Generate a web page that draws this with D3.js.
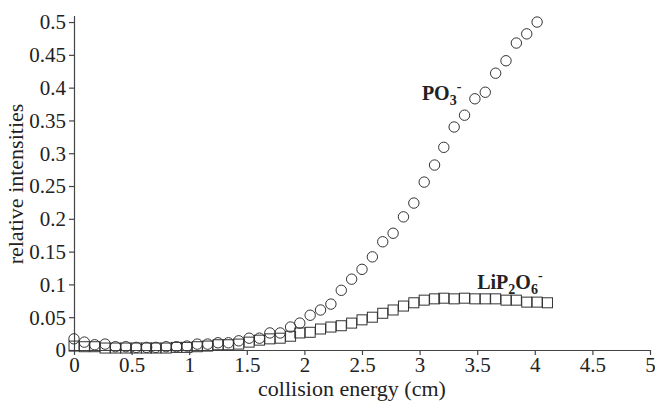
<!DOCTYPE html>
<html>
<head>
<meta charset="utf-8">
<script src="https://cdn.jsdelivr.net/npm/d3@7/dist/d3.min.js"></script>
<style>
  body { margin: 0; background: #fff; }
  svg text { font-family: "Liberation Serif", "Times New Roman", serif; fill: #222; }
  .axis path, .axis line { stroke: #444; stroke-width: 1.2; }
  .axis text { font-size: 21px; }
  .lbl { font-weight: bold; font-size: 20px; }
</style>
</head>
<body>
<svg id="chart"></svg>
<script>
// collision energy (cm) for each measurement
var energyPO3 = [0, 0.09, 0.18, 0.27, 0.36, 0.45, 0.54, 0.63, 0.71, 0.8, 0.89, 0.98, 1.07, 1.16, 1.25, 1.34,
    1.43, 1.52, 1.61, 1.7, 1.79, 1.88, 1.96, 2.05, 2.14, 2.23, 2.32, 2.41, 2.5, 2.59, 2.68, 2.77, 2.86, 2.95,
    3.04, 3.13, 3.21, 3.3, 3.39, 3.48, 3.57, 3.66, 3.75, 3.84, 3.93, 4.02];
var valuesPO3 = [0.017, 0.012, 0.008, 0.009, 0.005, 0.005, 0.004, 0.004, 0.004, 0.005, 0.005, 0.006, 0.009,
    0.009, 0.011, 0.011, 0.014, 0.018, 0.018, 0.026, 0.026, 0.035, 0.041, 0.053, 0.061, 0.07, 0.091, 0.108,
    0.123, 0.142, 0.165, 0.178, 0.203, 0.224, 0.256, 0.282, 0.309, 0.34, 0.358, 0.383, 0.393, 0.422, 0.441,
    0.468, 0.482, 0.5];

var energyLiP2O6 = [0, 0.09, 0.18, 0.27, 0.36, 0.45, 0.54, 0.63, 0.71, 0.8, 0.89, 0.98, 1.07, 1.16, 1.25, 1.34,
    1.43, 1.52, 1.61, 1.7, 1.79, 1.88, 1.96, 2.05, 2.14, 2.23, 2.32, 2.41, 2.5, 2.59, 2.68, 2.77, 2.86, 2.95,
    3.04, 3.13, 3.21, 3.3, 3.39, 3.48, 3.57, 3.66, 3.75, 3.84, 3.93, 4.02, 4.11];
var valuesLiP2O6 = [0.006, 0.005, 0.005, 0.003, 0.003, 0.003, 0.003, 0.003, 0.003, 0.003, 0.004, 0.004, 0.005,
    0.006, 0.008, 0.008, 0.009, 0.012, 0.015, 0.017, 0.018, 0.021, 0.026, 0.027, 0.032, 0.035, 0.037, 0.041,
    0.046, 0.05, 0.056, 0.061, 0.067, 0.072, 0.076, 0.078, 0.079, 0.078, 0.079, 0.078, 0.078, 0.078, 0.076,
    0.076, 0.073, 0.073, 0.072];

var xTicks = [0, 0.5, 1, 1.5, 2, 2.5, 3, 3.5, 4, 4.5, 5];
var xTickLabels = ["0", "0.5", "1", "1.5", "2", "2.5", "3", "3.5", "4", "4.5", "5"];
var yTicks = [0, 0.05, 0.1, 0.15, 0.2, 0.25, 0.3, 0.35, 0.4, 0.45, 0.5];
var yTickLabels = ["0", "0.05", "0.1", "0.15", "0.2", "0.25", "0.3", "0.35", "0.4", "0.45", "0.5"];

var W = 655, H = 401;
var margin = {top: 15.5, right: 5, bottom: 51, left: 74};
var width = W - margin.left - margin.right,
    height = H - margin.top - margin.bottom;

var svg = d3.select("#chart")
    .attr("width", W)
    .attr("height", H)
    .append("g")
    .attr("transform", "translate(" + margin.left + "," + margin.top + ")");

var xScale = d3.scaleLinear().domain([0, 5]).range([0, 576]);
var yScale = d3.scaleLinear().domain([0, 0.51]).range([height, 0]);

var xAxis = d3.axisBottom(xScale)
    .tickValues(xTicks)
    .tickFormat(function(d, i) { return xTickLabels[i]; })
    .tickSize(5)
    .tickSizeOuter(0);

var yAxis = d3.axisLeft(yScale)
    .tickValues(yTicks)
    .tickFormat(function(d, i) { return yTickLabels[i]; })
    .tickSize(5)
    .tickSizeOuter(0);

svg.append("g")
    .attr("class", "x axis")
    .attr("transform", "translate(0," + height + ")")
    .call(xAxis)
    .selectAll("text")
    .attr("y", 8)
    .attr("dy", "0.68em");

svg.append("g")
    .attr("class", "y axis")
    .call(yAxis)
    .selectAll("text")
    .attr("x", -8)
    .attr("dy", "0.33em");

// PO3- circles
svg.selectAll(".po3")
    .data(valuesPO3)
    .enter().append("circle")
    .attr("class", "po3")
    .attr("cx", function(d, i) { return xScale(energyPO3[i]); })
    .attr("cy", function(d) { return yScale(d); })
    .attr("r", 5.2)
    .attr("fill", "none")
    .attr("stroke", "#333")
    .attr("stroke-width", 1);

// LiP2O6- squares
var sq = 10;
svg.selectAll(".lip")
    .data(valuesLiP2O6)
    .enter().append("rect")
    .attr("class", "lip")
    .attr("x", function(d, i) { return xScale(energyLiP2O6[i]) - sq / 2; })
    .attr("y", function(d) { return yScale(d) - sq / 2; })
    .attr("width", sq)
    .attr("height", sq)
    .attr("fill", "none")
    .attr("stroke", "#333")
    .attr("stroke-width", 1);

// series labels
var t1 = svg.append("text")
    .attr("class", "lbl")
    .attr("x", xScale(3.02))
    .attr("y", yScale(0.381));
t1.append("tspan").text("PO");
t1.append("tspan").attr("dy", 5).style("font-size", "14px").text("3");
t1.append("tspan").attr("dy", -14).style("font-size", "14px").text("-");

var t2 = svg.append("text")
    .attr("class", "lbl")
    .attr("x", xScale(3.5))
    .attr("y", yScale(0.093));
t2.append("tspan").text("LiP");
t2.append("tspan").attr("dy", 5).style("font-size", "14px").text("2");
t2.append("tspan").attr("dy", -5).text("O");
t2.append("tspan").attr("dy", 5).style("font-size", "14px").text("6");
t2.append("tspan").attr("dy", -14).style("font-size", "14px").text("-");

// axis titles
svg.append("text")
    .attr("x", 278)
    .attr("y", height + 46)
    .attr("text-anchor", "middle")
    .style("font-size", "22px")
    .text("collision energy (cm)");

svg.append("text")
    .attr("transform", "translate(" + (-51) + "," + (184 - margin.top) + ") rotate(-90)")
    .attr("text-anchor", "middle")
    .style("font-size", "22px")
    .text("relative intensities");
</script>
</body>
</html>
